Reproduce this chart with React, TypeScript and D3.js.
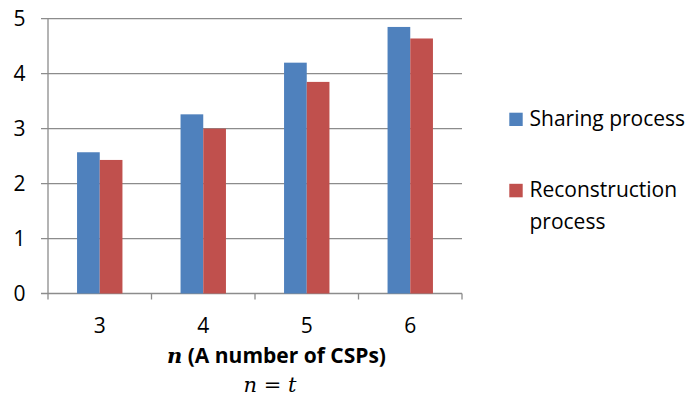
import React from "react";
import * as d3 from "d3";

const categories = ["3", "4", "5", "6"];
const sharing = [2.57, 3.26, 4.2, 4.85];
const reconstruction = [2.43, 3.0, 3.85, 4.64];
const yTicks = [0, 1, 2, 3, 4, 5];
const seriesNames = ["Sharing process", "Reconstruction process"];
const colors = ["#4F81BD", "#C0504D"];

const W = 687;
const H = 396;
const margin = { left: 48, right: 225, top: 18.7, bottom: 102.5 };
const FONT = "'Open Sans', sans-serif";
const FS = 21;

export default function App() {
  const x0 = d3
    .scaleBand<string>()
    .domain(categories)
    .range([margin.left, W - margin.right]);
  const y = d3.scaleLinear().domain([0, 5]).range([H - margin.bottom, margin.top]);
  const barW = 22.7;
  const x1 = d3
    .scaleBand<number>()
    .domain([0, 1])
    .range([0, barW * 2])
    .padding(0);
  const series = [sharing, reconstruction];
  const plotRight = W - margin.right;
  const y0 = y(0);

  return (
    <svg
      width={W}
      height={H}
      style={{ position: "absolute", left: 0, top: 0, background: "#fff" }}
    >
      {/* horizontal gridlines */}
      {yTicks.map((t) => (
        <line
          key={"g" + t}
          x1={margin.left - 7}
          x2={plotRight}
          y1={y(t)}
          y2={y(t)}
          stroke="#8c8c8c"
          strokeWidth={1.3}
        />
      ))}
      {/* y-axis tick labels */}
      {yTicks.map((t) => (
        <text
          key={"yl" + t}
          x={25.5}
          y={y(t)}
          dy="0.36em"
          textAnchor="end"
          fontFamily={FONT}
          fontSize={FS}
          fill="#000"
        >
          {t}
        </text>
      ))}
      {/* y axis */}
      <line x1={margin.left} x2={margin.left} y1={margin.top} y2={y0 + 6} stroke="#8c8c8c" strokeWidth={1.3} />
      {/* category ticks */}
      {categories.map((c) => (
        <line
          key={"t" + c}
          x1={x0(c)! + x0.bandwidth()}
          x2={x0(c)! + x0.bandwidth()}
          y1={y0}
          y2={y0 + 6}
          stroke="#8c8c8c"
          strokeWidth={1.3}
        />
      ))}
      {/* bars */}
      {categories.map((c, i) => {
        const gx = x0(c)! + x0.bandwidth() / 2 - barW;
        return series.map((s, k) => (
          <rect
            key={c + "-" + k}
            x={gx + x1(k)!}
            y={y(s[i])}
            width={x1.bandwidth()}
            height={y0 - y(s[i])}
            fill={colors[k]}
          />
        ));
      })}
      {/* category labels */}
      {categories.map((c) => (
        <text
          key={"xl" + c}
          x={x0(c)! + x0.bandwidth() / 2}
          y={333}
          textAnchor="middle"
          fontFamily={FONT}
          fontSize={FS}
          fill="#000"
        >
          {c}
        </text>
      ))}
      {/* axis title */}
      <text x={276.5} y={363} textAnchor="middle" fontSize={FS} fill="#000">
        <tspan fontFamily="'DejaVu Serif', serif" fontStyle="italic" fontWeight="bold">
          n
        </tspan>
        <tspan fontFamily={FONT} fontWeight="bold"> (A number of CSPs)</tspan>
      </text>
      <text x={270} y={392} textAnchor="middle" fontSize={21} fill="#000" fontFamily="'DejaVu Serif', serif">
        <tspan fontStyle="italic">n</tspan>
        <tspan> = </tspan>
        <tspan fontStyle="italic">t</tspan>
      </text>
      {/* legend */}
      <rect x={509.3} y={112.7} width={13.4} height={13.3} fill={colors[0]} />
      <text x={529.5} y={126} fontFamily={FONT} fontSize={FS} fill="#000">
        {seriesNames[0]}
      </text>
      <rect x={509.3} y={183.8} width={13.4} height={13.5} fill={colors[1]} />
      <text fontFamily={FONT} fontSize={FS} fill="#000">
        <tspan x={529.5} y={197.3}>Reconstruction</tspan>
        <tspan x={529.5} y={229}>process</tspan>
      </text>
    </svg>
  );
}
